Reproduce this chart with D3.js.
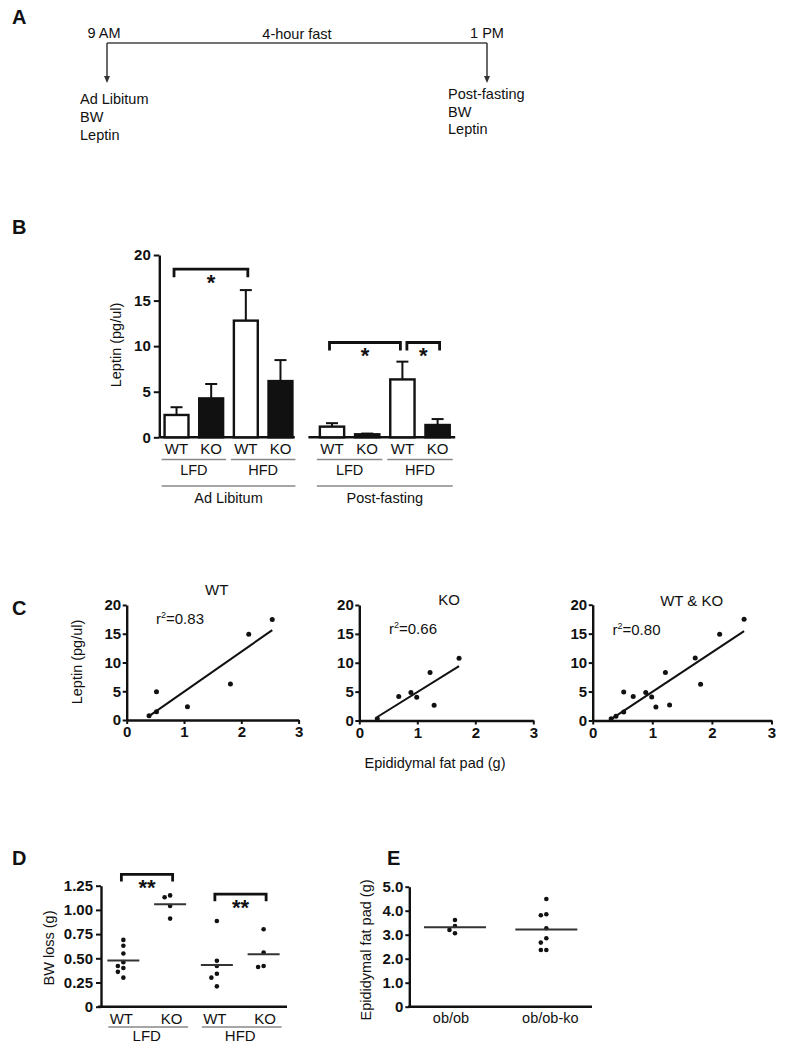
<!DOCTYPE html>
<html><head><meta charset="utf-8">
<script src="https://cdn.jsdelivr.net/npm/d3@7"></script>
<style>
body{margin:0;background:#fff}
svg{display:block}
text{font-family:"Liberation Sans",Arial,Helvetica,sans-serif;fill:#111}
</style>
</head><body>
<svg id="fig" width="785" height="1050"></svg>
<script>
// ================= DATA =================
// Panel A
const timelineTimes = ["09:00", "13:00"];
const timelineLabels = ["9 AM", "1 PM"];
const fastLabel = "4-hour fast";
const adLibMeasures = ["Ad Libitum", "BW", "Leptin"];
const postMeasures = ["Post-fasting", "BW", "Leptin"];

// Panel B
const bConditions = ["Ad Libitum", "Post-fasting"];
const bDiets = ["LFD", "HFD"];
const bGenotypes = ["WT", "KO", "WT", "KO"];
const leptinAdLibMean = [2.45, 4.27, 12.8, 6.17];
const leptinAdLibSem  = [0.85, 1.58, 3.35, 2.30];
const leptinPostMean  = [1.17, 0.33, 6.35, 1.35];
const leptinPostSem   = [0.38, 0.08, 1.95, 0.65];
const bTicks = [0, 5, 10, 15, 20];
const bSigCond  = [0, 1, 1];
const bSigFrom  = [0, 0, 2];
const bSigTo    = [2, 2, 3];
const bSigLevel = [18.45, 10.4, 10.4];
const bSigLabel = ["*", "*", "*"];

// Panel C
const wtFatPad = [0.39, 0.52, 0.52, 1.06, 1.81, 2.13, 2.54];
const wtLeptin = [0.75, 4.93, 1.45, 2.32, 6.26, 14.9, 17.5];
const koFatPad = [0.31, 0.68, 0.89, 0.99, 1.22, 1.29, 1.72];
const koLeptin = [0.30, 4.15, 4.85, 4.04, 8.30, 2.66, 10.8];
const cTitles = ["WT", "KO", "WT & KO"];
const cR2 = ["0.83", "0.66", "0.80"];
const cYTicks = [0, 5, 10, 15, 20];
const cXTicks = [0, 1, 2, 3];

// Panel D
const dGenotypes = ["WT", "KO", "WT", "KO"];
const dDiets = ["LFD", "HFD"];
const bwLossLfdWt = [0.69, 0.63, 0.55, 0.46, 0.42, 0.40, 0.36, 0.30];
const bwLossLfdKo = [1.15, 1.13, 1.04, 0.91];
const bwLossHfdWt = [0.885, 0.475, 0.42, 0.34, 0.30, 0.21];
const bwLossHfdKo = [0.80, 0.56, 0.41, 0.42];
const bwLossMeanLine = [0.476, 1.058, 0.43, 0.541];
const dTicks = [0, 0.25, 0.5, 0.75, 1.0, 1.25];
const dTickLabels = ["0", "0.25", "0.50", "0.75", "1.00", "1.25"];
const dSigFrom = [0, 2];
const dSigTo = [1, 3];
const dSigLevel = [1.366, 1.162];
const dSigLabel = ["**", "**"];

// Panel E
const eCategories = ["ob/ob", "ob/ob-ko"];
const fatPadObOb = [3.61, 3.36, 3.20, 3.06];
const fatPadObObKo = [4.49, 3.85, 3.81, 3.27, 2.85, 2.67, 2.36, 2.36];
const eMeanLine = [3.31, 3.22];
const eTicks = [0, 1, 2, 3, 4, 5];
const eTickLabels = ["0", "1.0", "2.0", "3.0", "4.0", "5.0"];

// ================= DRAWING =================
const FONT = '"Liberation Sans", Arial, Helvetica, sans-serif';
const INK = "#111";
const TXT = 14.5;
const TICK = 15;
const svg = d3.select("#fig");

function txt(g, x, y, s, o = {}) {
  return g.append("text").attr("x", x).attr("y", y).text(s)
    .attr("font-size", o.size || TXT)
    .attr("font-weight", o.weight || "normal")
    .attr("text-anchor", o.anchor || "start")
    .attr("fill", o.fill || INK);
}
function vlabel(g, x, y, s, size = TXT) {
  g.append("text").attr("transform", `translate(${x},${y}) rotate(-90)`)
    .attr("text-anchor", "middle").attr("font-size", size).attr("fill", INK).text(s);
}
function styleAxis(g, size) {
  g.attr("font-family", null).attr("font-size", null);
  g.select(".domain").attr("stroke", INK).attr("stroke-width", 2.4);
  g.selectAll(".tick line").attr("stroke", INK).attr("stroke-width", 2);
  g.selectAll(".tick text").attr("fill", INK).attr("font-size", size)
    .attr("font-weight", "bold").style("font-family", FONT);
}
function hline(g, x1, x2, y, stroke = INK, w = 2) {
  g.append("line").attr("x1", x1).attr("x2", x2).attr("y1", y).attr("y2", y)
    .attr("stroke", stroke).attr("stroke-width", w);
}
function bracket(g, x1, x2, y, drop, label, starSize) {
  g.append("path").attr("d", `M${x1},${y + drop}V${y}H${x2}V${y + drop}`)
    .attr("fill", "none").attr("stroke", INK).attr("stroke-width", 2.8);
  txt(g, (x1 + x2) / 2, y + 8.5 + starSize * 0.56, label, { size: starSize, weight: "bold", anchor: "middle" });
}
function swarm(values, yScale, cx, d, step) {
  const order = values.map((v, i) => i).sort((a, b) => values[b] - values[a]);
  const placed = [], out = new Array(values.length);
  order.forEach(i => {
    const py = yScale(values[i]);
    const offs = [0, -step, step, -2 * step, 2 * step, -3 * step, 3 * step];
    for (const o of offs) {
      const px = cx + o;
      if (placed.every(p => Math.hypot(p[0] - px, p[1] - py) >= d)) {
        placed.push([px, py]); out[i] = [px, py]; break;
      }
    }
  });
  return out;
}

// Panel letters
[["A", 12, 24], ["B", 12, 234], ["C", 12, 615], ["D", 12, 865], ["E", 387, 865]]
  .forEach(([l, x, y]) => txt(svg, x, y, l, { size: 20, weight: "bold" }));

// ---------- Panel A ----------
(function () {
  const g = svg.append("g");
  const parseT = d3.timeParse("%H:%M");
  const t = d3.scaleTime().domain(timelineTimes.map(parseT)).range([107, 487]);
  const times = timelineTimes.map(parseT);
  const lineY = 43, arrowEnd = 83;
  hline(g, t(times[0]), t(times[1]), lineY, "#444", 1.6);
  times.forEach((tm, i) => {
    const x = t(tm);
    g.append("line").attr("x1", x).attr("x2", x).attr("y1", lineY).attr("y2", arrowEnd - 5)
      .attr("stroke", "#444").attr("stroke-width", 1.6);
    g.append("path").attr("d", `M${x - 3},${arrowEnd - 7}L${x + 3},${arrowEnd - 7}L${x},${arrowEnd}Z`).attr("fill", "#333");
    txt(g, x + (i === 0 ? -3 : 0), 38, timelineLabels[i], { anchor: "middle" });
  });
  txt(g, (t(times[0]) + t(times[1])) / 2, 39, fastLabel, { anchor: "middle" });
  adLibMeasures.forEach((s, i) => txt(g, t(times[0]) - 27, 103.5 + i * 18, s));
  postMeasures.forEach((s, i) => txt(g, t(times[1]) - 39, 99 + i * 17.5, s));
})();

// ---------- Panel B ----------
(function () {
  const g = svg.append("g");
  const y = d3.scaleLinear().domain([0, 20]).range([437.3, 255]);
  const ranges = [[159.2, 297.8], [314.4, 455.2]];
  const xs = ranges.map(r => d3.scaleBand().domain(d3.range(4)).range(r).paddingInner(0.31).paddingOuter(0.155));
  const means = [leptinAdLibMean, leptinPostMean];
  const sems = [leptinAdLibSem, leptinPostSem];
  const y0 = y(0);

  g.append("g").attr("transform", "translate(159.3,0)")
    .call(d3.axisLeft(y).tickValues(bTicks).tickSize(5.5).tickSizeOuter(0).tickPadding(3))
    .call(a => styleAxis(a, TICK));
  hline(g, 159.3, ranges[0][1] - 3, y0, INK, 2.4);
  hline(g, ranges[1][0] - 6, ranges[1][1], y0, INK, 2.4);

  xs.forEach((x, c) => {
    const bw = x.bandwidth();
    const dat = d3.range(4).map(i => ({ i, m: means[c][i], s: sems[c][i] }));
    dat.forEach(d => {
      const cx = x(d.i) + bw / 2;
      g.append("line").attr("x1", cx).attr("x2", cx).attr("y1", y(d.m)).attr("y2", y(d.m + d.s))
        .attr("stroke", INK).attr("stroke-width", 2);
      hline(g, cx - 6, cx + 6, y(d.m + d.s), INK, 2);
    });
    g.selectAll(null).data(dat).join("rect")
      .attr("x", d => x(d.i)).attr("y", d => y(d.m))
      .attr("width", bw).attr("height", d => y0 - y(d.m))
      .attr("fill", d => bGenotypes[d.i] === "WT" ? "#fff" : INK)
      .attr("stroke", INK).attr("stroke-width", 2.4);
    dat.forEach(d => txt(g, x(d.i) + bw / 2, 454, bGenotypes[d.i], { anchor: "middle", size: 15 }));
    bDiets.forEach((dt, k) => {
      const a = k * 2, b = k * 2 + 1;
      hline(g, x(a) - 3, x(b) + bw + 3, 459.5, "#888", 1.4);
      txt(g, (x(a) + x(b) + bw) / 2, 475, dt, { anchor: "middle" });
    });
    hline(g, x(0) - 3, x(3) + bw + 3, 486, "#888", 1.4);
    txt(g, (x(0) + x(3) + bw) / 2, 502.5, bConditions[c], { anchor: "middle" });
  });

  bSigCond.forEach((c, k) => {
    const x = xs[c], bw = x.bandwidth();
    const sharedStart = bSigTo.some((t, j) => j !== k && bSigCond[j] === c && t === bSigFrom[k]);
    const sharedEnd = bSigFrom.some((f, j) => j !== k && bSigCond[j] === c && f === bSigTo[k]);
    const x1 = x(bSigFrom[k]) + bw / 2 + (sharedStart ? 4.5 : -2.5);
    const x2 = x(bSigTo[k]) + bw / 2 + (sharedEnd ? -2 : 2);
    bracket(g, x1, x2, y(bSigLevel[k]), 8, bSigLabel[k], 22);
  });

  vlabel(g, 121, 345, "Leptin (pg/ul)");
})();

// ---------- Panel C ----------
function linfit(xv, yv) {
  const mx = d3.mean(xv), my = d3.mean(yv);
  let sxy = 0, sxx = 0;
  xv.forEach((v, i) => { sxy += (v - mx) * (yv[i] - my); sxx += (v - mx) ** 2; });
  const b = sxy / sxx;
  return { b, a: my - b * mx };
}
function scatterPanel(o) {
  const g = svg.append("g");
  const x = d3.scaleLinear().domain([0, 3]).range([o.x0, o.x3]);
  const y = d3.scaleLinear().domain([0, 20]).range([o.yb, o.yt]);
  g.append("g").attr("transform", `translate(${o.x0},0)`)
    .call(d3.axisLeft(y).tickValues(cYTicks).tickSize(4).tickSizeOuter(0).tickPadding(1.5).tickFormat(d3.format("d")))
    .call(a => styleAxis(a, TICK));
  g.append("g").attr("transform", `translate(0,${o.yb})`)
    .call(d3.axisBottom(x).tickValues(cXTicks).tickSize(4).tickSizeOuter(0).tickPadding(2.5).tickFormat(d3.format("d")))
    .call(a => styleAxis(a, TICK));
  const fit = linfit(o.xs, o.ys);
  const xmin = d3.min(o.xs), xmax = d3.max(o.xs);
  g.append("line").attr("x1", x(xmin)).attr("y1", y(fit.a + fit.b * xmin))
    .attr("x2", x(xmax)).attr("y2", y(fit.a + fit.b * xmax))
    .attr("stroke", INK).attr("stroke-width", 2);
  g.selectAll(null).data(o.xs.map((v, i) => [v, o.ys[i]])).join("circle")
    .attr("cx", d => x(d[0])).attr("cy", d => y(d[1])).attr("r", 2.5).attr("fill", INK);
  txt(g, o.titleX, o.titleY, o.title, { anchor: "middle", size: 15 });
  const t = txt(g, o.r2X, o.r2Y, "r", { size: 15 });
  t.append("tspan").attr("font-size", 9).attr("dy", -6).text("2");
  t.append("tspan").attr("dy", 6).text("=" + o.r2);
}
scatterPanel({ x0: 126.7, x3: 298.6, yb: 720, yt: 605, xs: wtFatPad, ys: wtLeptin,
  title: cTitles[0], titleX: 216.7, titleY: 594.5, r2: cR2[0], r2X: 156, r2Y: 623.5 });
scatterPanel({ x0: 359.3, x3: 533.3, yb: 720.5, yt: 605, xs: koFatPad, ys: koLeptin,
  title: cTitles[1], titleX: 449, titleY: 604.5, r2: cR2[1], r2X: 389, r2Y: 633.5 });
scatterPanel({ x0: 592.7, x3: 771.5, yb: 720.5, yt: 604.7, xs: wtFatPad.concat(koFatPad), ys: wtLeptin.concat(koLeptin),
  title: cTitles[2], titleX: 691.7, titleY: 606, r2: cR2[2], r2X: 612.5, r2Y: 634.5 });
vlabel(svg, 82, 662, "Leptin (pg/ul)");
txt(svg, 435, 768, "Epididymal fat pad (g)", { anchor: "middle" });

// ---------- Panel D ----------
(function () {
  const g = svg.append("g");
  const y = d3.scaleLinear().domain([0, 1.25]).range([1006.7, 885.7]);
  const x = d3.scaleBand().domain(d3.range(4)).range([100, 287]);
  const cx = i => x(i) + x.bandwidth() / 2;
  g.append("g").attr("transform", "translate(101,0)")
    .call(d3.axisLeft(y).tickValues(dTicks).tickSize(5).tickSizeOuter(0).tickPadding(3)
      .tickFormat((d, i) => dTickLabels[i]))
    .call(a => styleAxis(a, TICK));
  hline(g, 98, 287, y(0), INK, 2.4);
  const groups = [bwLossLfdWt, bwLossLfdKo, bwLossHfdWt, bwLossHfdKo];
  groups.forEach((vals, i) => {
    const pts = swarm(vals, y, cx(i), 5.2, 5.5);
    g.selectAll(null).data(pts).join("circle")
      .attr("cx", d => d[0]).attr("cy", d => d[1]).attr("r", 2.3).attr("fill", INK);
    hline(g, cx(i) - 16, cx(i) + 16, y(bwLossMeanLine[i]), "#333", 2);
    txt(g, cx(i) + (i % 2 ? 1.5 : -2), 1024, dGenotypes[i], { anchor: "middle", size: 15 });
  });
  dDiets.forEach((dt, k) => {
    const a = cx(2 * k), b = cx(2 * k + 1);
    hline(g, a - 15, b + 18, 1027, "#888", 1.4);
    txt(g, (a + b) / 2, 1040.5, dt, { anchor: "middle", size: 15 });
  });
  dSigFrom.forEach((f, k) => {
    bracket(g, cx(f) - 2, cx(dSigTo[k]) + 2.5, y(dSigLevel[k]), 7, dSigLabel[k], 22);
  });
  vlabel(g, 54, 948, "BW loss (g)");
})();

// ---------- Panel E ----------
(function () {
  const g = svg.append("g");
  const y = d3.scaleLinear().domain([0, 5]).range([1006.7, 886.7]);
  const x = d3.scaleBand().domain(eCategories).range([409.3, 592]);
  const cx = c => x(c) + x.bandwidth() / 2;
  g.append("g").attr("transform", "translate(409.3,0)")
    .call(d3.axisLeft(y).tickValues(eTicks).tickSize(4).tickSizeOuter(0).tickPadding(2)
      .tickFormat((d, i) => eTickLabels[i]))
    .call(a => styleAxis(a, TICK));
  hline(g, 408, 592, y(0), INK, 2.4);
  [fatPadObOb, fatPadObObKo].forEach((vals, i) => {
    const c = eCategories[i];
    const pts = swarm(vals, y, cx(c), 5.2, 5.5);
    g.selectAll(null).data(pts).join("circle")
      .attr("cx", d => d[0]).attr("cy", d => d[1]).attr("r", 2.3).attr("fill", INK);
    hline(g, cx(c) - 31, cx(c) + 31, y(eMeanLine[i]), "#333", 2);
    txt(g, cx(c) + (i ? 4 : -4), 1023, c, { anchor: "middle" });
  });
  vlabel(g, 371, 950, "Epididymal fat pad (g)");
})();
</script>
</body></html>
